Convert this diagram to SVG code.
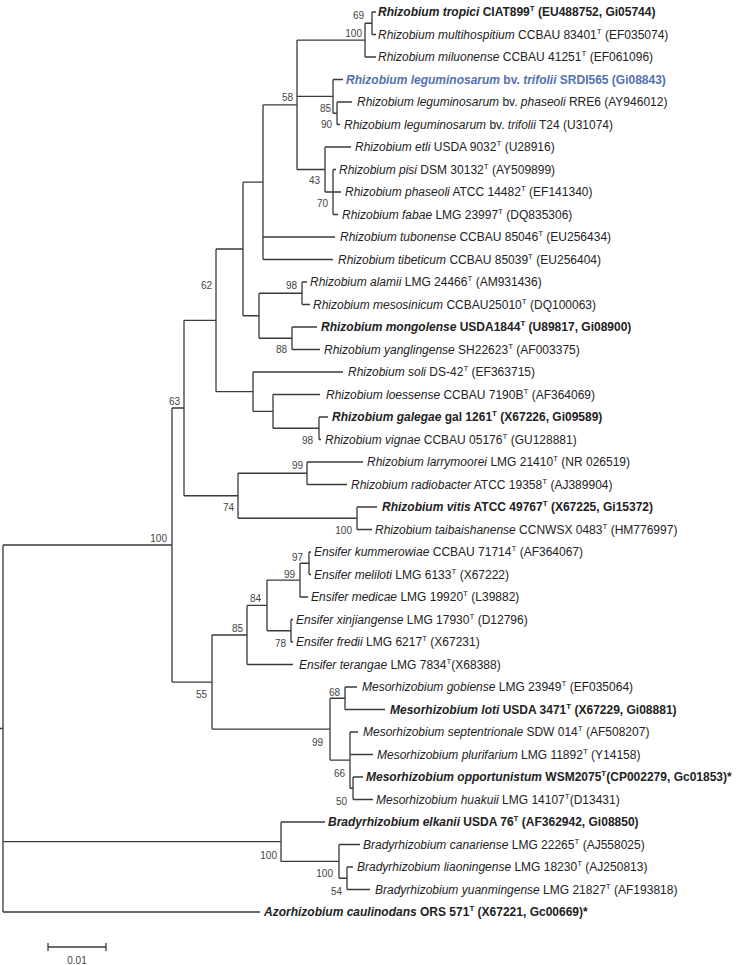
<svg xmlns="http://www.w3.org/2000/svg" width="750" height="965" viewBox="0 0 750 965">
<style>
.e{fill:none;stroke:#3a3a3a;stroke-width:1.3}
.t{font-family:"Liberation Sans",Arial,sans-serif;font-size:12px;fill:#222}
.bold{font-weight:bold}
.blue{fill:#5470b0}
.i{font-style:italic}
.b{font-family:"Liberation Sans",Arial,sans-serif;font-size:10px;fill:#444;text-anchor:end}
</style>
<rect width="750" height="965" fill="#fff"/>
<g id="connectors" class="e">
<path d="M0 728.5H3M3 545V912M3 545H172M3 841.7H281M3 912H260"/>
<path d="M172 408V682.1M172 408H184M172 682.1H212"/>
<path d="M184 320.3V495.75M184 320.3H216M184 495.75H238"/>
<path d="M216 249V391.7M216 249H243M216 391.7H253"/>
<path d="M243 182.2V315.75M243 182.2H263M243 315.75H259"/>
<path d="M263 104.8V259.5M263 104.8H297M263 237H335M263 259.5H333"/>
<path d="M297 40.1V169.5M297 40.1H365M297 96.4H333M297 169.5H325"/>
<path d="M365 23.25V57M365 23.25H372M365 57H376M372 12V34.5M372 12H376M372 34.5H376"/>
<path d="M333 79.5V113.25M333 79.5H343M333 113.25H337M337 102V124.5M337 102H352M337 124.5H340"/>
<path d="M325 147V192M325 147H351M325 192H333M333 169.5V214.5M333 169.5H336M333 192H341M333 214.5H338"/>
<path d="M259 293.25V338.25M259 293.25H302M259 338.25H292M302 282V304.5M302 282H307M302 304.5H310M292 327V349.5M292 327H317M292 349.5H320"/>
<path d="M253 372V411.4M253 372H343M253 411.4H273M273 394.5V428.25M273 394.5H320M273 428.25H319M319 417V439.5M319 417H328M319 439.5H321"/>
<path d="M238 473.25V518.25M238 473.25H307M238 518.25H357M307 462V484.5M307 462H363M307 484.5H347M357 507V529.5M357 507H377M357 529.5H372"/>
<path d="M212 635V729.2M212 635H247M212 729.2H330"/>
<path d="M247 605.4V664.5M247 605.4H267M247 664.5H293M267 580.1V630.75M267 580.1H300M267 630.75H291"/>
<path d="M300 563.25V597M300 563.25H309M300 597H308M309 552V574.5M309 552H311M309 574.5H311M291 619.5V642M291 619.5H293M291 642H293"/>
<path d="M330 698.25V760.1M330 698.25H345M330 760.1H350M345 687V709.5M345 687H357M345 709.5H385"/>
<path d="M350 732V788.25M350 732H358M350 754.5H373M350 788.25H353M353 777V799.5M353 777H363M353 799.5H373"/>
<path d="M281 822V861.4M281 822H325M281 861.4H339M339 844.5V878.25M339 844.5H360M339 878.25H347M347 867V889.5M347 867H353M347 889.5H370"/>
</g>
<g id="bootstrap">
<text class="b" x="364" y="19">69</text>
<text class="b" x="362" y="37">100</text>
<text class="b" x="293" y="101">58</text>
<text class="b" x="331" y="112">85</text>
<text class="b" x="332" y="128">90</text>
<text class="b" x="320" y="184">43</text>
<text class="b" x="328" y="207">70</text>
<text class="b" x="297" y="289">98</text>
<text class="b" x="287" y="353">88</text>
<text class="b" x="212" y="289">62</text>
<text class="b" x="313" y="444">98</text>
<text class="b" x="303" y="469">99</text>
<text class="b" x="180" y="405">63</text>
<text class="b" x="234" y="511">74</text>
<text class="b" x="167" y="542">100</text>
<text class="b" x="352" y="534">100</text>
<text class="b" x="303" y="561">97</text>
<text class="b" x="295" y="578">99</text>
<text class="b" x="261" y="602">84</text>
<text class="b" x="243" y="632">85</text>
<text class="b" x="286" y="647">78</text>
<text class="b" x="207" y="698">55</text>
<text class="b" x="340" y="696">68</text>
<text class="b" x="323" y="746">99</text>
<text class="b" x="345" y="777">66</text>
<text class="b" x="347" y="805">50</text>
<text class="b" x="277" y="859">100</text>
<text class="b" x="333" y="877">100</text>
<text class="b" x="342" y="895">54</text>
</g>
<g id="taxa" class="t">
<g id="n1"><text x="378" y="16" class="bold"><tspan class="i">Rhizobium tropici</tspan> CIAT899<tspan font-size="8" dy="-5">T</tspan><tspan dy="5"> (EU488752, Gi05744)</tspan></text></g>
<g id="n2"><text x="378" y="38.5"><tspan class="i">Rhizobium multihospitium</tspan> CCBAU 83401<tspan font-size="8" dy="-5">T</tspan><tspan dy="5"> (EF035074)</tspan></text></g>
<g id="n3"><text x="378" y="61"><tspan class="i">Rhizobium miluonense</tspan> CCBAU 41251<tspan font-size="8" dy="-5">T</tspan><tspan dy="5"> (EF061096)</tspan></text></g>
<g id="n4"><text x="346" y="83.5" class="bold blue"><tspan class="i">Rhizobium leguminosarum</tspan> bv. <tspan class="i">trifolii</tspan> SRDI565  (Gi08843)</text></g>
<g id="n5"><text x="357" y="106"><tspan class="i">Rhizobium leguminosarum</tspan> bv. <tspan class="i">phaseoli</tspan> RRE6  (AY946012)</text></g>
<g id="n6"><text x="344" y="128.5"><tspan class="i">Rhizobium leguminosarum</tspan> bv. <tspan class="i">trifolii</tspan> T24  (U31074)</text></g>
<g id="n7"><text x="355" y="151"><tspan class="i">Rhizobium etli</tspan> USDA 9032<tspan font-size="8" dy="-5">T</tspan><tspan dy="5"> (U28916)</tspan></text></g>
<g id="n8"><text x="339" y="173.5"><tspan class="i">Rhizobium pisi</tspan> DSM 30132<tspan font-size="8" dy="-5">T</tspan><tspan dy="5"> (AY509899)</tspan></text></g>
<g id="n9"><text x="345" y="196"><tspan class="i">Rhizobium phaseoli</tspan> ATCC 14482<tspan font-size="8" dy="-5">T</tspan><tspan dy="5"> (EF141340)</tspan></text></g>
<g id="n10"><text x="342" y="218.5"><tspan class="i">Rhizobium fabae</tspan> LMG 23997<tspan font-size="8" dy="-5">T</tspan><tspan dy="5"> (DQ835306)</tspan></text></g>
<g id="n11"><text x="340" y="241"><tspan class="i">Rhizobium tubonense</tspan> CCBAU 85046<tspan font-size="8" dy="-5">T</tspan><tspan dy="5"> (EU256434)</tspan></text></g>
<g id="n12"><text x="338" y="263.5"><tspan class="i">Rhizobium tibeticum</tspan> CCBAU 85039<tspan font-size="8" dy="-5">T</tspan><tspan dy="5"> (EU256404)</tspan></text></g>
<g id="n13"><text x="310" y="286"><tspan class="i">Rhizobium alamii</tspan> LMG 24466<tspan font-size="8" dy="-5">T</tspan><tspan dy="5"> (AM931436)</tspan></text></g>
<g id="n14"><text x="313" y="308.5"><tspan class="i">Rhizobium mesosinicum</tspan> CCBAU25010<tspan font-size="8" dy="-5">T</tspan><tspan dy="5"> (DQ100063)</tspan></text></g>
<g id="n15"><text x="321" y="331" class="bold"><tspan class="i">Rhizobium mongolense</tspan> USDA1844<tspan font-size="8" dy="-5">T</tspan><tspan dy="5"> (U89817, Gi08900)</tspan></text></g>
<g id="n16"><text x="324" y="353.5"><tspan class="i">Rhizobium yanglingense</tspan> SH22623<tspan font-size="8" dy="-5">T</tspan><tspan dy="5"> (AF003375)</tspan></text></g>
<g id="n17"><text x="348" y="376"><tspan class="i">Rhizobium soli</tspan> DS-42<tspan font-size="8" dy="-5">T</tspan><tspan dy="5"> (EF363715)</tspan></text></g>
<g id="n18"><text x="326" y="398.5"><tspan class="i">Rhizobium loessense</tspan> CCBAU 7190B<tspan font-size="8" dy="-5">T</tspan><tspan dy="5"> (AF364069)</tspan></text></g>
<g id="n19"><text x="332" y="421" class="bold"><tspan class="i">Rhizobium galegae</tspan> gal 1261<tspan font-size="8" dy="-5">T</tspan><tspan dy="5"> (X67226, Gi09589)</tspan></text></g>
<g id="n20"><text x="325" y="443.5"><tspan class="i">Rhizobium vignae</tspan> CCBAU 05176<tspan font-size="8" dy="-5">T</tspan><tspan dy="5"> (GU128881)</tspan></text></g>
<g id="n21"><text x="367" y="466"><tspan class="i">Rhizobium larrymoorei</tspan> LMG 21410<tspan font-size="8" dy="-5">T</tspan><tspan dy="5"> (NR 026519)</tspan></text></g>
<g id="n22"><text x="351" y="488.5"><tspan class="i">Rhizobium radiobacter</tspan> ATCC 19358<tspan font-size="8" dy="-5">T</tspan><tspan dy="5"> (AJ389904)</tspan></text></g>
<g id="n23"><text x="382" y="511" class="bold"><tspan class="i">Rhizobium vitis</tspan> ATCC 49767<tspan font-size="8" dy="-5">T</tspan><tspan dy="5"> (X67225, Gi15372)</tspan></text></g>
<g id="n24"><text x="375" y="533.5"><tspan class="i">Rhizobium taibaishanense</tspan> CCNWSX 0483<tspan font-size="8" dy="-5">T</tspan><tspan dy="5"> (HM776997)</tspan></text></g>
<g id="n25"><text x="314" y="556"><tspan class="i">Ensifer kummerowiae</tspan> CCBAU 71714<tspan font-size="8" dy="-5">T</tspan><tspan dy="5"> (AF364067)</tspan></text></g>
<g id="n26"><text x="314" y="578.5"><tspan class="i">Ensifer meliloti</tspan> LMG 6133<tspan font-size="8" dy="-5">T</tspan><tspan dy="5"> (X67222)</tspan></text></g>
<g id="n27"><text x="311" y="601"><tspan class="i">Ensifer medicae</tspan> LMG 19920<tspan font-size="8" dy="-5">T</tspan><tspan dy="5"> (L39882)</tspan></text></g>
<g id="n28"><text x="296" y="623.5"><tspan class="i">Ensifer xinjiangense</tspan> LMG 17930<tspan font-size="8" dy="-5">T</tspan><tspan dy="5"> (D12796)</tspan></text></g>
<g id="n29"><text x="296" y="646"><tspan class="i">Ensifer fredii</tspan> LMG 6217<tspan font-size="8" dy="-5">T</tspan><tspan dy="5"> (X67231)</tspan></text></g>
<g id="n30"><text x="299" y="668.5"><tspan class="i">Ensifer terangae</tspan> LMG 7834<tspan font-size="8" dy="-5">T</tspan><tspan dy="5">(X68388)</tspan></text></g>
<g id="n31"><text x="362" y="691"><tspan class="i">Mesorhizobium gobiense</tspan> LMG 23949<tspan font-size="8" dy="-5">T</tspan><tspan dy="5"> (EF035064)</tspan></text></g>
<g id="n32"><text x="390" y="713.5" class="bold"><tspan class="i">Mesorhizobium loti</tspan> USDA 3471<tspan font-size="8" dy="-5">T</tspan><tspan dy="5"> (X67229, Gi08881)</tspan></text></g>
<g id="n33"><text x="363" y="736"><tspan class="i">Mesorhizobium septentrionale</tspan> SDW 014<tspan font-size="8" dy="-5">T</tspan><tspan dy="5"> (AF508207)</tspan></text></g>
<g id="n34"><text x="377" y="758.5"><tspan class="i">Mesorhizobium plurifarium</tspan> LMG 11892<tspan font-size="8" dy="-5">T</tspan><tspan dy="5"> (Y14158)</tspan></text></g>
<g id="n35"><text x="366" y="781" class="bold"><tspan class="i">Mesorhizobium opportunistum</tspan> WSM2075<tspan font-size="8" dy="-5">T</tspan><tspan dy="5">(CP002279, Gc01853)*</tspan></text></g>
<g id="n36"><text x="376" y="803.5"><tspan class="i">Mesorhizobium huakuii</tspan> LMG 14107<tspan font-size="8" dy="-5">T</tspan><tspan dy="5">(D13431)</tspan></text></g>
<g id="n37"><text x="328" y="826" class="bold"><tspan class="i">Bradyrhizobium elkanii</tspan> USDA 76<tspan font-size="8" dy="-5">T</tspan><tspan dy="5"> (AF362942, Gi08850)</tspan></text></g>
<g id="n38"><text x="363" y="848.5"><tspan class="i">Bradyrhizobium canariense</tspan> LMG 22265<tspan font-size="8" dy="-5">T</tspan><tspan dy="5"> (AJ558025)</tspan></text></g>
<g id="n39"><text x="357" y="871"><tspan class="i">Bradyrhizobium liaoningense</tspan> LMG 18230<tspan font-size="8" dy="-5">T</tspan><tspan dy="5"> (AJ250813)</tspan></text></g>
<g id="n40"><text x="375" y="893.5"><tspan class="i">Bradyrhizobium yuanmingense</tspan> LMG 21827<tspan font-size="8" dy="-5">T</tspan><tspan dy="5"> (AF193818)</tspan></text></g>
<g id="n41"><text x="264" y="916" class="bold"><tspan class="i">Azorhizobium caulinodans</tspan> ORS 571<tspan font-size="8" dy="-5">T</tspan><tspan dy="5"> (X67221, Gc00669)*</tspan></text></g>
</g>
<g id="scale">
<path class="e" d="M48 947H106M48 943V951M106 943V951"/>
<text class="b" x="77" y="964" style="text-anchor:middle">0.01</text>
</g>
</svg>
